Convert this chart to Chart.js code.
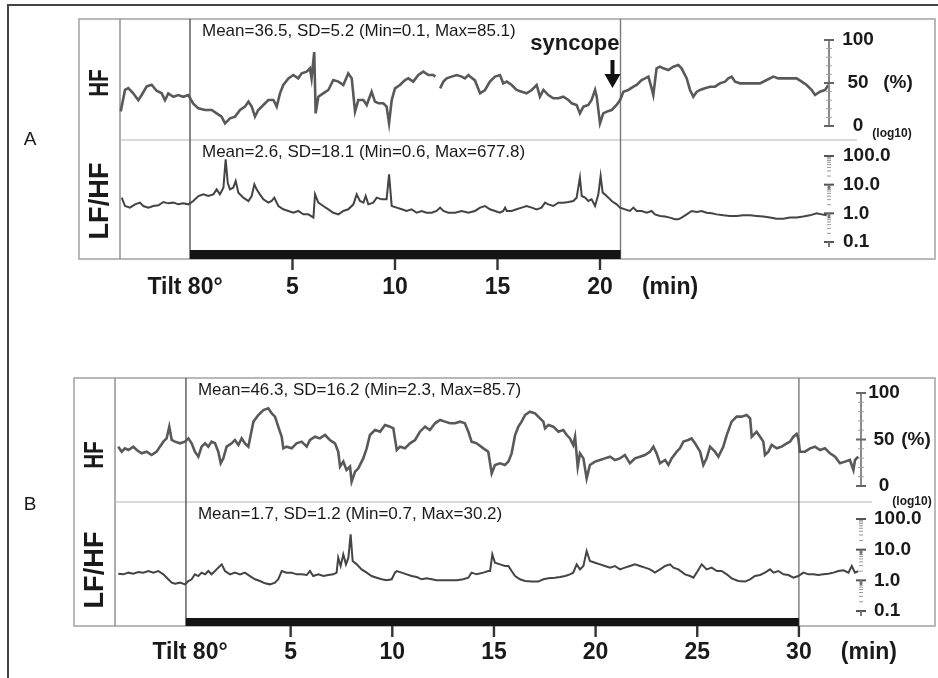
<!DOCTYPE html>
<html>
<head>
<meta charset="utf-8">
<script src="https://cdn.jsdelivr.net/npm/chart.js@4.4.1/dist/chart.umd.min.js"></script>
<style>
  html, body { margin: 0; padding: 0; background: #fff; }
  #wrap { position: relative; width: 938px; height: 678px; overflow: hidden; }
  #frame { position: absolute; left: 7px; top: 4px; width: 960px; height: 700px;
           border-top: 2px solid #444; border-left: 2px solid #444; }
  canvas { position: absolute; left: 0; top: 0; }
</style>
</head>
<body>
<div id="wrap">
  <div id="frame"></div>
  <canvas id="chartA" width="938" height="678"></canvas>
  <canvas id="chartB" width="938" height="678"></canvas>
</div>
<script>
// ---- panel A (syncope) : minutes from tilt, HF (%) and LF/HF ratio ----
const aHfMin = [-3.38,-3.17,-3.01,-2.77,-2.52,-2.36,-2.11,-1.87,-1.63,-1.38,-1.22,-1.06,-0.81,-0.57,-0.33,-0.08,
  0.16,0.41,0.73,1.06,1.30,1.54,1.71,1.95,2.20,2.44,2.68,2.85,3.01,3.17,3.33,3.58,3.82,4.07,4.23,4.39,4.55,4.80,
  5.04,5.28,5.45,5.69,5.85,5.93,6.06,6.13,6.26,6.50,6.75,6.99,7.24,7.48,7.72,7.89,8.05,8.21,8.46,8.62,8.86,9.02,
  9.19,9.43,9.59,9.71,9.84,10.00,10.24,10.49,10.65,10.89,11.14,11.38,11.63,11.87,11.97,12.10,12.20,12.36,12.52,12.76,
  13.01,13.25,13.41,13.58,13.66,13.90,14.15,14.39,14.63,14.88,15.12,15.28,15.45,15.69,15.93,16.18,16.42,16.67,
  16.91,17.07,17.24,17.48,17.72,17.97,18.21,18.46,18.62,18.86,19.02,19.19,19.43,19.59,19.76,19.84,20.00,20.16,
  20.33,20.57,20.81,20.98,21.14,21.38,21.63,21.79,22.03,22.20,22.36,22.52,22.60,22.68,22.76,22.93,23.09,23.33,
  23.58,23.82,23.98,24.23,24.39,24.55,24.72,24.88,25.12,25.37,25.61,25.85,26.10,26.26,26.42,26.59,26.83,27.15,
  27.48,27.80,28.13,28.46,28.70,28.94,29.27,29.59,29.84,30.08,30.33,30.49,30.73,30.98,31.14];
const aHf = [17,42,44,38,30,36,46,48,41,38,30,38,34,36,34,36,
  26,20.5,18.6,18.6,14.7,10.9,3.1,8.9,10.9,18.6,22.5,28.3,22.5,10.9,18.6,24.4,30.2,30.2,22.5,38,47.7,55.4,
  59.3,55.4,61.2,63.2,67.1,55.4,86,14.7,34.1,38,41.9,53.5,51.6,47.7,61.2,55.4,16.7,30.2,30.2,24.4,39.9,28.3,
  26.4,26.4,22.5,3.1,30.2,43.8,47.7,53.5,55.4,51.6,59.3,63.2,59.3,59.3,57.4,null,43.8,51.6,55.4,57.4,
  59.3,57.4,55.4,59.3,57.4,53,38,41.9,51.6,57.4,59.3,49.6,51.6,47.7,41.9,39.9,38,41.9,
  47.7,34.1,41.9,36,32.2,32.2,34.1,30.2,26.4,24.4,14.7,22.5,24.4,30.2,41.9,34.1,3.1,14.7,
  16.7,18.6,24.4,30.2,39.9,41.9,45.7,47.7,53.5,55.4,57.4,43.8,36,51.6,67.1,69,67.1,65.1,
  69,70.9,67.1,55.4,41.9,34.1,39.9,41.9,43.8,45.7,45.7,49.6,51.6,55.4,57.4,51.6,49.6,49.6,
  49.6,49.6,53.5,57.4,55.4,55.4,55.4,55.4,51.6,47.7,41.9,36,39.9,41.9,47.7];

const aLfMin = [-3.33,-3.17,-2.93,-2.68,-2.44,-2.28,-2.03,-1.79,-1.54,-1.30,-1.06,-0.81,-0.57,-0.33,-0.08,
  0.16,0.41,0.65,0.89,1.14,1.30,1.46,1.63,1.74,1.84,1.95,2.11,2.23,2.36,2.60,2.85,3.01,3.14,3.25,3.41,3.58,
  3.82,3.98,4.11,4.31,4.55,4.80,5.04,5.28,5.53,5.77,6.02,6.10,6.26,6.50,6.75,6.99,7.24,7.48,7.72,7.97,8.13,
  8.29,8.46,8.57,8.70,8.94,9.11,9.35,9.59,9.71,9.84,10.08,10.33,10.57,10.81,11.06,11.30,11.54,11.79,12.03,
  12.20,12.36,12.60,12.93,13.25,13.58,13.90,14.15,14.39,14.63,14.88,15.12,15.28,15.37,15.45,15.69,15.93,16.18,
  16.42,16.67,16.91,17.15,17.32,17.48,17.72,17.97,18.21,18.46,18.70,18.86,19.02,19.11,19.27,19.43,19.59,19.76,
  19.92,20.03,20.13,20.24,20.41,20.57,20.81,20.98,21.22,21.46,21.63,21.79,22.03,22.28,22.52,22.68,22.93,23.17,
  23.41,23.66,23.82,23.98,24.23,24.47,24.72,24.96,25.20,25.45,25.69,26.02,26.34,26.67,26.99,27.32,27.64,27.97,
  28.29,28.62,28.94,29.27,29.59,29.92,30.24,30.57,30.81,31.06];
const aLf = [3.5,1.8,1.58,2.06,2.36,1.8,1.58,1.8,1.9,2.49,2.23,2.36,2.06,2.23,2.06,
  2.69,4.02,4.6,4.02,4.6,6.87,4.6,7.85,76,11.7,6.87,7.85,13.4,5.26,3.52,2.69,4.02,10.3,6.87,4.6,3.08,
  2.36,2.69,3.52,1.8,1.38,1.21,1.05,1.21,0.92,0.92,0.71,4.6,2.36,1.8,1.38,1.05,0.92,1.21,1.38,2.06,4.6,
  2.69,2.36,4.02,2.06,2.36,3.52,3.08,3.08,22.9,1.8,1.58,1.38,1.21,1.38,1.05,1.21,1.05,1.05,1.21,
  1.58,1.21,1.05,1.05,1.21,1.05,1.21,1.58,1.8,1.38,1.21,1.05,1.21,1.58,1.21,1.21,1.38,1.58,
  1.8,1.58,1.38,1.58,2.36,2.06,1.8,2.36,2.36,2.49,2.69,3.52,17.5,4.02,3.52,2.69,3.08,1.8,
  4.6,20.1,5.26,4.6,3.52,2.69,2.06,1.58,1.38,1.21,1.58,1.21,1.21,1.05,1.21,0.92,0.81,0.77,
  0.71,0.62,0.62,0.71,0.92,1.21,1.11,1.21,1.05,1.0,0.92,0.85,0.81,0.81,0.85,0.85,0.81,0.77,
  0.71,0.65,0.65,0.71,0.71,0.77,0.85,1.0,0.92,0.85];

// ---- panel B (no syncope) ----
const bHfMin = [-3.48,-3.31,-3.15,-2.98,-2.74,-2.57,-2.33,-2.08,-1.84,-1.59,-1.43,-1.26,-1.10,-0.97,-0.85,-0.69,
  -0.44,-0.20,-0.03,0.13,0.29,0.46,0.62,0.79,0.95,1.11,1.28,1.44,1.56,1.69,1.85,2.10,2.26,2.43,2.59,2.75,2.92,
  3.00,3.17,3.41,3.66,3.90,4.07,4.23,4.39,4.56,4.64,4.80,5.05,5.29,5.54,5.79,5.95,6.20,6.44,6.69,6.93,7.18,
  7.34,7.43,7.59,7.75,7.92,8.00,8.17,8.33,8.57,8.74,8.90,9.15,9.40,9.64,9.89,10.05,10.22,10.38,10.62,10.87,
  11.12,11.36,11.61,11.85,12.10,12.35,12.59,12.84,13.08,13.33,13.57,13.74,13.90,14.15,14.48,14.72,14.89,15.05,
  15.30,15.54,15.71,15.87,16.04,16.20,16.36,16.53,16.77,17.02,17.18,17.43,17.51,17.68,17.92,18.17,18.41,18.58,
  18.74,18.90,18.99,19.12,19.23,19.40,19.56,19.72,19.97,20.22,20.46,20.71,20.95,21.20,21.44,21.69,21.94,22.18,
  22.43,22.68,22.84,23.00,23.17,23.42,23.58,23.74,23.99,24.15,24.32,24.56,24.72,24.89,25.14,25.30,25.46,25.63,
  25.87,26.04,26.28,26.45,26.69,26.94,27.18,27.43,27.60,27.68,27.92,28.09,28.25,28.33,28.50,28.66,28.91,29.15,
  29.40,29.56,29.73,29.89,29.97,30.05,30.30,30.55,30.79,31.04,31.28,31.53,31.78,32.02,32.27,32.51,32.68,32.76,
  32.92];
const bHf = [42.3,36.9,40.5,38.7,42.3,38.7,35.1,36.9,33.3,36.9,42.3,47.7,51.2,63.8,49.5,47.7,
  45.9,47.7,51.2,45.9,36.9,31.5,42.3,45.9,42.3,47.7,45.9,36.9,24.4,29.7,42.3,45.9,49.5,44.1,51.2,45.9,42.3,
  51.2,69.2,76.3,81.7,83.5,78.1,74.6,63.8,53.0,40.5,42.3,40.5,45.9,47.7,42.3,49.5,53.0,51.2,54.8,49.5,45.9,
  36.9,20.8,26.2,17.2,20.8,4.7,15.4,19.0,29.7,40.5,54.8,60.2,58.4,65.6,63.8,62.0,38.7,42.3,40.5,45.9,
  49.5,58.4,63.8,60.2,67.4,71.0,69.2,67.4,67.4,69.2,67.4,58.4,47.7,45.9,40.5,36.9,13.6,22.6,
  24.4,22.6,26.2,35.1,54.8,63.8,69.2,76.3,79.9,78.1,74.6,69.2,62.0,65.6,63.8,58.4,60.2,54.8,
  51.2,44.1,53.0,20.8,35.1,29.7,8.2,22.6,26.2,28.0,29.7,31.5,28.0,29.7,33.3,24.4,29.7,31.5,
  33.3,36.9,42.3,35.1,24.4,28.0,22.6,29.7,36.9,40.5,47.7,49.5,51.2,45.9,36.9,22.6,29.7,42.3,
  36.9,31.5,42.3,54.8,69.2,74.6,74.6,76.3,72.8,53.0,58.4,53.0,47.7,33.3,36.9,44.1,40.5,42.3,
  45.9,47.7,53.0,56.0,51.2,36.9,36.9,40.5,42.3,38.7,40.5,35.1,31.5,24.4,26.2,28.0,17.2,28.0,
  31.5];

const bLfMin = [-3.48,-3.23,-2.98,-2.74,-2.49,-2.25,-2.00,-1.75,-1.51,-1.26,-1.02,-0.85,-0.69,-0.44,-0.20,-0.03,
  0.13,0.29,0.46,0.62,0.79,0.95,1.11,1.28,1.44,1.61,1.77,2.02,2.26,2.51,2.75,3.00,3.25,3.49,3.74,3.98,4.23,
  4.39,4.56,4.80,5.05,5.29,5.54,5.79,5.95,6.11,6.36,6.61,6.85,7.10,7.26,7.34,7.46,7.59,7.72,7.84,7.95,8.05,
  8.25,8.49,8.74,8.98,9.23,9.48,9.72,9.97,10.13,10.22,10.46,10.71,10.95,11.20,11.45,11.69,11.94,12.18,12.51,
  12.84,13.17,13.49,13.74,13.90,14.15,14.48,14.72,14.81,14.92,15.05,15.30,15.54,15.71,15.87,16.04,16.28,16.53,
  16.86,17.18,17.43,17.68,18.00,18.25,18.50,18.74,18.90,19.07,19.23,19.40,19.56,19.72,19.97,20.22,20.46,20.71,
  20.95,21.20,21.44,21.69,21.94,22.18,22.43,22.68,22.92,23.17,23.42,23.66,23.83,24.07,24.40,24.65,24.81,24.97,
  25.22,25.46,25.71,25.96,26.20,26.45,26.69,27.02,27.35,27.60,27.84,28.09,28.33,28.58,28.75,28.99,29.24,29.48,
  29.73,29.97,30.22,30.47,30.71,30.96,31.20,31.45,31.70,31.94,32.19,32.44,32.60,32.76,32.92];
const bLf = [1.65,1.57,1.78,1.65,1.87,1.78,2.01,1.78,2.01,1.57,1.08,0.84,0.78,0.84,0.74,0.95,
  1.08,1.57,1.38,1.78,1.57,2.01,1.57,2.01,2.59,3.32,2.01,1.57,1.78,1.57,1.78,1.38,1.08,0.95,0.80,0.74,0.84,
  1.08,2.01,1.78,1.78,1.57,1.57,1.49,2.01,1.38,1.57,1.38,1.49,1.57,1.78,5.47,2.93,7.03,3.32,5.47,31.5,4.26,
  3.32,2.28,1.78,1.38,1.22,1.08,1.0,1.08,1.78,2.01,1.78,1.57,1.38,1.28,1.08,1.16,1.08,1.0,1.0,
  1.0,1.0,1.08,1.22,1.78,1.57,1.78,2.01,2.01,7.03,3.76,3.32,2.93,2.93,2.01,1.38,1.08,0.95,
  0.91,0.91,1.08,1.16,1.22,1.28,1.38,1.57,1.78,3.32,2.28,2.93,9.0,4.26,3.76,3.32,2.93,2.59,
  2.93,2.28,2.59,2.93,3.32,2.93,2.59,2.28,1.78,2.28,2.93,3.32,2.59,2.28,1.57,1.38,1.22,1.78,
  3.32,2.28,2.59,2.01,2.01,1.57,1.16,0.95,0.91,1.08,1.38,1.49,1.78,2.28,1.78,2.01,1.57,1.49,
  1.22,1.38,1.78,1.57,1.57,1.49,1.57,1.65,1.78,2.01,2.12,1.78,2.93,1.78,2.01];

// axis ticks and texts
const aMinuteTicks = [5, 10, 15, 20];
const bMinuteTicks = [5, 10, 15, 20, 25, 30];
const hfTickVals = [0, 50, 100];
const lfTickVals = [0.1, 1, 10, 100];
const aStats = ['Mean=36.5, SD=5.2 (Min=0.1, Max=85.1)', 'Mean=2.6, SD=18.1 (Min=0.6, Max=677.8)'];
const bStats = ['Mean=46.3, SD=16.2 (Min=2.3, Max=85.7)', 'Mean=1.7, SD=1.2 (Min=0.7, Max=30.2)'];

const toPoints = (xs, ys) => xs.map((x, i) => ({ x, y: ys[i] }));

const line = (ctx, x0, y0, x1, y1, color, w) => {
  ctx.strokeStyle = color; ctx.lineWidth = w;
  ctx.beginPath(); ctx.moveTo(x0, y0); ctx.lineTo(x1, y1); ctx.stroke();
};

const text = (ctx, s, x, y, font, align = 'center', base = 'middle', color = '#1a1a1a') => {
  ctx.font = font; ctx.fillStyle = color; ctx.textAlign = align; ctx.textBaseline = base;
  ctx.fillText(s, x, y);
};

// rotated label squeezed to a given length
const vText = (ctx, s, cx, cy, len, font) => {
  ctx.save();
  ctx.translate(cx, cy); ctx.rotate(-Math.PI / 2);
  ctx.font = font;
  const w = ctx.measureText(s).width;
  ctx.scale(len / w, 1);
  ctx.fillStyle = '#1a1a1a'; ctx.textAlign = 'center'; ctx.textBaseline = 'middle';
  ctx.fillText(s, 0, 0);
  ctx.restore();
};

// value range that puts two anchor values at two pixel rows
const fitRange = (top, bottom, v1, p1, v2, p2) => {
  const k = (v2 - v1) / (p2 - p1);
  return { min: v1 + (bottom - p1) * k, max: v1 + (top - p1) * k };
};

const FONT = '"Liberation Sans", Arial, sans-serif';

const decor = {
  id: 'decor',
  beforeDatasetsDraw(chart, args, o) {
    const { ctx, scales: { x } } = chart;
    const [bx0, by0, bx1, by1] = o.box;
    ctx.save();
    ctx.strokeStyle = '#a8a8a8'; ctx.lineWidth = 1.6;
    ctx.strokeRect(bx0, by0, bx1 - bx0, by1 - by0);
    line(ctx, o.colX, by0, o.colX, by1, '#8c8c8c', 1.4);
    line(ctx, o.colX, o.divY, o.divEnd, o.divY, '#b4b4b4', 1);
    const xt = x.getPixelForValue(o.tiltAt);
    const xe = x.getPixelForValue(o.endAt);
    line(ctx, xt, by0, xt, by1, '#555', 1.4);
    line(ctx, xe, by0, xe, by1, '#7a7a7a', 1.4);
    ctx.fillStyle = '#141414';
    ctx.fillRect(xt, by1 - o.barH, xe - xt, o.barH);
    ctx.restore();
  },
  afterDatasetsDraw(chart, args, o) {
    const { ctx, chartArea, scales: { x, hf, lf } } = chart;
    const by1 = o.box[3];
    const ax = chartArea.right;
    ctx.save();

    // minute ticks along the bottom
    o.ticks.forEach(t => {
      const px = x.getPixelForValue(t);
      line(ctx, px, by1, px, by1 + 11, '#333', 2.4);
      text(ctx, String(t), px, o.tickLabelY, 'bold 23px ' + FONT);
    });
    text(ctx, 'Tilt 80\u00b0', x.getPixelForValue(0) + o.tiltLabelDx, o.tickLabelY, 'bold 23px ' + FONT);
    const last = x.getPixelForValue(o.ticks[o.ticks.length - 1]);
    text(ctx, '(min)', last + 70, o.tickLabelY, 'bold 23px ' + FONT);

    // row labels
    vText(ctx, 'HF', o.rowLabelX, o.hfLabelY, o.hfLabelLen, 'bold 28px ' + FONT);
    vText(ctx, 'LF/HF', o.rowLabelX, o.lfLabelY, o.lfLabelLen, 'bold 28px ' + FONT);

    // statistics
    const xt = x.getPixelForValue(o.tiltAt);
    text(ctx, o.stats[0], xt + 12, o.box[1] + 17, '17px ' + FONT, 'left', 'alphabetic');
    text(ctx, o.stats[1], xt + 12, o.divY + 17, '17px ' + FONT, 'left', 'alphabetic');

    // HF axis
    const yTop = hf.getPixelForValue(100), yBot = hf.getPixelForValue(0);
    line(ctx, ax, yTop, ax, yBot, '#8a8a8a', 2);
    for (let v = 10; v < 100; v += 10) {
      const py = hf.getPixelForValue(v);
      line(ctx, ax - 3, py, ax + 3, py, '#a0a0a0', 1);
    }
    hfTickVals.forEach(v => {
      const py = hf.getPixelForValue(v);
      line(ctx, ax - 5, py, ax + 5, py, '#666', 2);
      text(ctx, String(v), ax + o.hfNumDx, py, 'bold 19px ' + FONT);
    });
    text(ctx, '(%)', ax + o.pctDx, hf.getPixelForValue(50), 'bold 19px ' + FONT);
    text(ctx, '(log10)', ax + o.logDx, o.logY, 'bold 12px ' + FONT);

    // LF/HF log axis
    lfTickVals.forEach((v, i) => {
      const py = lf.getPixelForValue(v);
      line(ctx, ax - 5, py, ax + 5, py, '#555', 2);
      if (i < lfTickVals.length - 1) {
        line(ctx, ax, py, ax, py + 5, '#777', 2);
        for (let n = 2; n < 10; n++) {
          const pm = lf.getPixelForValue(v * n);
          line(ctx, ax - 2, pm, ax + 2, pm, '#9a9a9a', 1);
        }
      }
      text(ctx, v >= 1 ? v.toFixed(1) : String(v), ax + o.lfNumDx, py, 'bold 19px ' + FONT, 'left');
    });

    // syncope marker
    if (o.syncope) {
      const xe = x.getPixelForValue(o.endAt);
      text(ctx, 'syncope', xe - 1, o.box[1] + 31, 'bold 22px ' + FONT, 'right', 'alphabetic');
      const ar = xe - 8;
      line(ctx, ar, o.box[1] + 41, ar, o.box[1] + 57, '#111', 4);
      ctx.fillStyle = '#111';
      ctx.beginPath();
      ctx.moveTo(ar - 8, o.box[1] + 55); ctx.lineTo(ar + 8, o.box[1] + 55); ctx.lineTo(ar, o.box[1] + 69);
      ctx.closePath(); ctx.fill();
    }

    // panel letter
    text(ctx, o.letter, 30, o.letterY, '19px ' + FONT);
    ctx.restore();
  }
};

const makePanel = (id, p) => {
  const [px0, py0, px1, py1] = p.plot;
  const hfR = fitRange(py0, py1, 100, p.hfAnchor[0], 0, p.hfAnchor[1]);
  const lfR = fitRange(py0, py1, 2, p.lfAnchor[0], -1, p.lfAnchor[1]);
  return new Chart(document.getElementById(id), {
    type: 'line',
    data: {
      datasets: [
        { label: 'HF', data: toPoints(p.hfMin, p.hf), yAxisID: 'hf',
          borderColor: '#595959', borderWidth: 2.6, pointRadius: 0, tension: 0, spanGaps: false, clip: 6 },
        { label: 'LF/HF', data: toPoints(p.lfMin, p.lf), yAxisID: 'lf',
          borderColor: '#444', borderWidth: 2, pointRadius: 0, tension: 0, clip: 6 }
      ]
    },
    options: {
      responsive: false,
      devicePixelRatio: 1,
      animation: false,
      layout: { padding: { left: px0, top: py0, right: 938 - px1, bottom: 678 - py1 } },
      plugins: {
        legend: { display: false },
        tooltip: { enabled: false },
        decor: p.decor
      },
      scales: {
        x: { type: 'linear', display: false,
             min: (px0 - p.xZero) / p.ppm, max: (px1 - p.xZero) / p.ppm },
        hf: { type: 'linear', display: false, min: hfR.min, max: hfR.max },
        lf: { type: 'logarithmic', display: false,
              min: Math.pow(10, lfR.min), max: Math.pow(10, lfR.max) }
      }
    },
    plugins: [decor]
  });
};

makePanel('chartA', {
  plot: [120, 19, 829, 259], xZero: 190, ppm: 20.5,
  hfAnchor: [40, 126], lfAnchor: [156, 242],
  hfMin: aHfMin, hf: aHf, lfMin: aLfMin, lf: aLf,
  decor: {
    box: [79, 19, 935, 259], colX: 120, divY: 140, divEnd: 857, barH: 9,
    tiltAt: 0, endAt: 21, ticks: aMinuteTicks, tickLabelY: 288, tiltLabelDx: -5,
    rowLabelX: 100, hfLabelY: 83, hfLabelLen: 27, lfLabelY: 201, lfLabelLen: 77,
    stats: aStats, hfNumDx: 29, pctDx: 69, logDx: 63, logY: 134, lfNumDx: 14,
    syncope: true, letter: 'A', letterY: 140
  }
});

makePanel('chartB', {
  plot: [117, 378, 861, 626], xZero: 189, ppm: 20.33,
  hfAnchor: [393, 486], lfAnchor: [519, 611],
  hfMin: bHfMin, hf: bHf, lfMin: bLfMin, lf: bLf,
  decor: {
    box: [74, 378, 935, 626], colX: 115, divY: 502, divEnd: 872, barH: 8,
    tiltAt: -0.15, endAt: 30, ticks: bMinuteTicks, tickLabelY: 653, tiltLabelDx: 1,
    rowLabelX: 95, hfLabelY: 455, hfLabelLen: 27, lfLabelY: 570, lfLabelLen: 77,
    stats: bStats, hfNumDx: 23, pctDx: 55, logDx: 51, logY: 502, lfNumDx: 13,
    syncope: false, letter: 'B', letterY: 505
  }
});
</script>
</body>
</html>
